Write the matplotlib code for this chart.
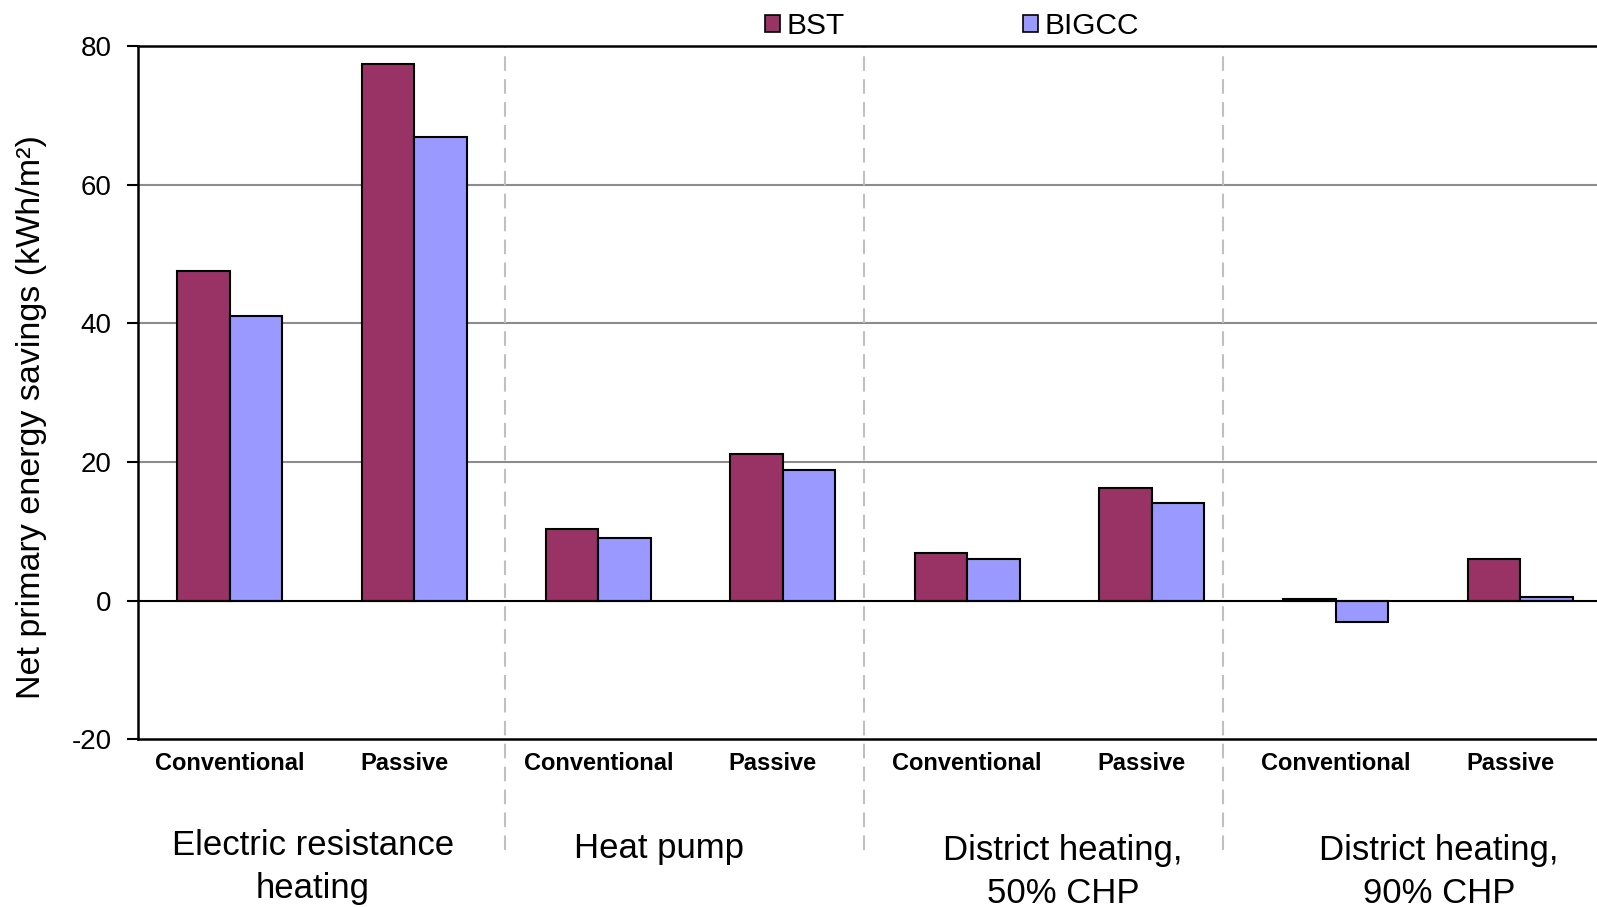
import matplotlib
matplotlib.use("Agg")
import matplotlib.pyplot as plt
import matplotlib.transforms as mtransforms
from matplotlib.patches import Patch
import numpy as np

plt.rcParams['font.family'] = ['Liberation Sans', 'DejaVu Sans']

# ---- data ----
categories = ["Conventional", "Passive", "Conventional", "Passive",
              "Conventional", "Passive", "Conventional", "Passive"]
groups = ["Electric resistance\nheating", "Heat pump",
          "District heating,\n50% CHP", "District heating,\n90% CHP"]
bst = [47.6, 77.4, 10.3, 21.1, 6.9, 16.3, 0.2, 6.0]
bigcc = [41.0, 66.8, 9.1, 18.8, 6.0, 14.1, -3.1, 0.5]
series_names = ["BST", "BIGCC"]
yticks = [-20, 0, 20, 40, 60, 80]
ylabel = "Net primary energy savings (kWh/m²)"

c_bst = "#993366"
c_bigcc = "#9999FF"

W, H = 1597, 907
fig = plt.figure(figsize=(W / 100, H / 100), dpi=100)
left_px, right_px, top_px, bot_px = 137.5, 1612.5, 45.8, 739.4
ax = fig.add_axes([left_px / W, 1 - bot_px / H,
                   (right_px - left_px) / W, (bot_px - top_px) / H])

x = np.arange(len(categories))
bw = 0.285
ax.bar(x - bw / 2, bst, width=bw, color=c_bst, edgecolor="black", linewidth=1.5, zorder=3)
ax.bar(x + bw / 2, bigcc, width=bw, color=c_bigcc, edgecolor="black", linewidth=1.5, zorder=3)

ax.set_xlim(-0.5, len(categories) - 0.5)
ax.set_ylim(-20, 80)
ax.set_yticks(yticks)
ax.set_yticklabels([str(t) for t in yticks], fontsize=20)
for t in [20, 40, 60]:
    ax.axhline(t, color="#8c8c8c", linewidth=1.5, zorder=1)
ax.axhline(0, color="black", linewidth=1.5, zorder=4)

for s in ["left", "top", "bottom"]:
    ax.spines[s].set_linewidth(1.8)
    ax.spines[s].set_color("black")
ax.spines["right"].set_visible(False)
ax.tick_params(axis="y", direction="out", length=8, width=1.5, pad=10.5)

ax.set_xticks(x)
ax.set_xticklabels(categories, fontsize=17, fontweight="bold")
ax.tick_params(axis="x", length=0, pad=9)
for i, lab in enumerate(ax.get_xticklabels()):
    if categories[i] == "Passive":
        lab.set_transform(lab.get_transform() +
                          mtransforms.ScaledTranslation(-10 / 100, 0, fig.dpi_scale_trans))

# separators
for b in [1.494, 3.44, 5.39]:
    ax.axvline(b, ymin=-0.159, ymax=1, color="#c0c0c0", linewidth=1.5,
               linestyle=(0, (7, 4)), clip_on=False, zorder=2)

# group labels
offsets = [-0.05, -0.17, 0.02, 0.06]
ytops = [835, 838, 840, 840]
for g, (name, off, yt) in enumerate(zip(groups, offsets, ytops)):
    trans = mtransforms.blended_transform_factory(ax.transData, fig.transFigure)
    ax.text(2 * g + 0.5 + off, 1 - (yt - 6) / H, name, transform=trans,
            ha="center", va="top", fontsize=25, linespacing=1.38)

fig.text(31.6 / W, 1 - 417 / H, ylabel, rotation=90, fontsize=24.5,
         ha="center", va="center")

handles = [Patch(facecolor=c_bst, edgecolor="black", linewidth=1.2),
           Patch(facecolor=c_bigcc, edgecolor="black", linewidth=1.2)]
fig.legend(handles, series_names, loc="center", bbox_to_anchor=(952 / W, 1 - 26.5 / H),
           ncol=2, frameon=False, fontsize=21.5, handlelength=0.5, handleheight=0.5,
           handletextpad=0.2, columnspacing=6.0, borderaxespad=0, borderpad=0)

fig.savefig("out.png", dpi=100)
